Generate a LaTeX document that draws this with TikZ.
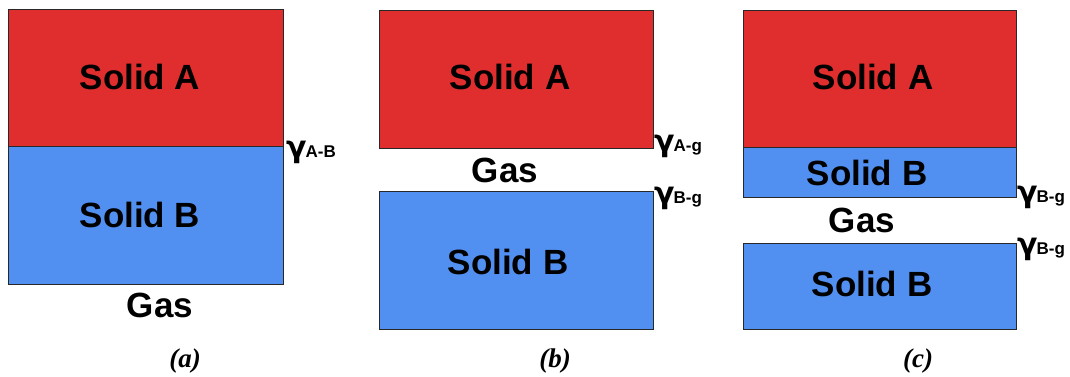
\documentclass[tikz,border=0pt]{standalone}
\usepackage{fontspec}
\setmainfont{Liberation Sans}
\newfontfamily\capfont{Liberation Serif}
\newfontfamily\gfont{DejaVu Sans}
\definecolor{solA}{RGB}{224,45,46}
\definecolor{solB}{RGB}{81,143,240}
\definecolor{edge}{RGB}{40,40,40}
\begin{document}
\begin{tikzpicture}[x=1pt,y=-1pt,
  blk/.style={draw=edge,line width=1pt},
  lbl/.style={font=\fontsize{35}{40}\selectfont\bfseries,inner sep=0pt},
  gam/.style={font=\fontsize{30}{34}\selectfont\bfseries,inner sep=0pt,anchor=base west},
  captxt/.style={font=\capfont\fontsize{27}{30}\selectfont\bfseries\itshape,inner sep=0pt}]
\newcommand{\gm}[1]{{\gfont\fontsize{30}{34}\selectfont\bfseries γ}\kern-1pt{\fontsize{17}{20}\selectfont #1}}
\useasboundingbox (0,0) rectangle (1070,376);
% panel a
\filldraw[blk,fill=solA] (8,9) rectangle (283,146);
\filldraw[blk,fill=solB] (8,146) rectangle (283,284);
\node[lbl] (a1) at (140,77) {Solid A};
\node[lbl] (a2) at (140,215) {Solid B};
\node[lbl] (a3) at (160,305) {Gas};
\node[gam] (ag) at (286,157) {\gm{A-B}};
\node[captxt] (ca) at (185,361) {(a)};
% panel b
\filldraw[blk,fill=solA] (379,10) rectangle (653,148);
\filldraw[blk,fill=solB] (379,191) rectangle (653,329);
\node[lbl] (b1) at (510,77) {Solid A};
\node[lbl] (b2) at (505,170) {Gas};
\node[lbl] (b3) at (508,262) {Solid B};
\node[gam] (bg1) at (654,151) {\gm{A-g}};
\node[gam] (bg2) at (654,203) {\gm{B-g}};
\node[captxt] (cb) at (555,361) {(b)};
% panel c
\filldraw[blk,fill=solA] (743,10) rectangle (1016,147);
\filldraw[blk,fill=solB] (743,147) rectangle (1016,197);
\filldraw[blk,fill=solB] (743,243) rectangle (1016,329);
\node[lbl] (c1) at (873,77) {Solid A};
\node[lbl] (c2) at (867,173) {Solid B};
\node[lbl] (c3) at (862,220) {Gas};
\node[lbl] (c4) at (872,284) {Solid B};
\node[gam] (cg1) at (1017,202) {\gm{B-g}};
\node[gam] (cg2) at (1017,254) {\gm{B-g}};
\node[captxt] (cc) at (918,361) {(c)};
\end{tikzpicture}
\end{document}
